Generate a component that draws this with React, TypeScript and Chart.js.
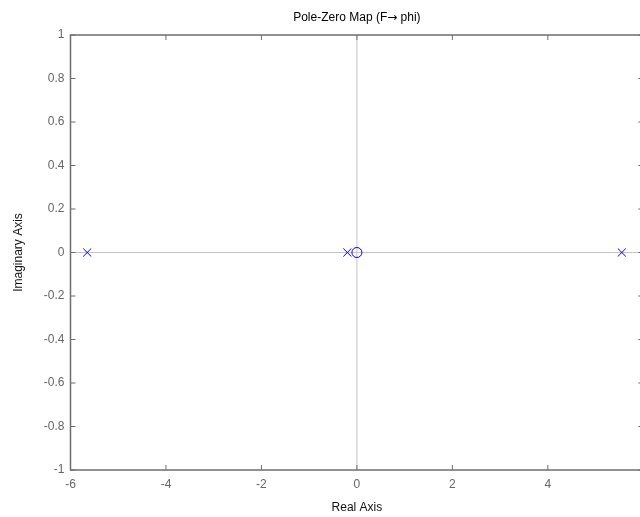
import React, { useEffect, useRef } from 'react';
import { Chart, registerables } from 'chart.js';
Chart.register(...registerables);

const titleParts = ['Pole-Zero Map (F', '\u2192', ' phi)'];
const xLabel = 'Real Axis';
const yLabel = 'Imaginary Axis';
const xMin = -6;
const xMax = 6;
const yMin = -1;
const yMax = 1;
const xStep = 2;
const yStep = 0.2;
const poleRe = [-5.65, -0.2, 5.55];
const poleIm = [0, 0, 0];
const zeroRe = [0];
const zeroIm = [0];

const FONT = '"Liberation Sans", Arial, Helvetica, sans-serif';
const ARROW_FONT = '"DejaVu Sans", sans-serif';

const framePlugin = {
  id: 'frame',
  afterDatasetsDraw(chart: any) {
    const { ctx, chartArea: a, scales } = chart;
    ctx.save();
    ctx.strokeStyle = '#6e6e6e';
    ctx.lineWidth = 1;
    const seg = (x1: number, y1: number, x2: number, y2: number) => {
      ctx.beginPath();
      ctx.moveTo(x1, y1);
      ctx.lineTo(x2, y2);
      ctx.stroke();
    };
    scales.x.ticks.forEach((t: any) => {
      const px = scales.x.getPixelForValue(t.value);
      seg(px, a.top, px, a.top + 5);
      seg(px, a.bottom, px, a.bottom - 5);
    });
    scales.y.ticks.forEach((t: any) => {
      const py = scales.y.getPixelForValue(t.value);
      seg(a.left, py, a.left + 5, py);
      seg(a.right, py, a.right - 5, py);
    });
    ctx.lineWidth = 1.5;
    ctx.strokeRect(a.left, a.top, a.right - a.left, a.bottom - a.top);

    // chart title, centred over the plot area
    ctx.fillStyle = '#000';
    ctx.textBaseline = 'middle';
    ctx.textAlign = 'left';
    const fonts = [`12px ${FONT}`, `12px ${ARROW_FONT}`, `12px ${FONT}`];
    const widths = titleParts.map((p, i) => {
      ctx.font = fonts[i];
      return ctx.measureText(p).width;
    });
    const total = widths.reduce((s, w) => s + w, 0);
    let x = (a.left + a.right) / 2 - total / 2;
    titleParts.forEach((p, i) => {
      ctx.font = fonts[i];
      ctx.fillText(p, x, 18);
      x += widths[i];
    });
    ctx.restore();
  },
};

export default function App() {
  const ref = useRef<HTMLCanvasElement | null>(null);
  useEffect(() => {
    if (!ref.current) return;
    const chart = new Chart(ref.current, {
      type: 'scatter',
      data: {
        datasets: [
          {
            label: 'poles',
            data: poleRe.map((x, i) => ({ x, y: poleIm[i] })),
            pointStyle: 'crossRot',
            pointRadius: 5.7,
            borderColor: '#0000ff',
            backgroundColor: '#0000ff',
            borderWidth: 1,
            order: 1,
          },
          {
            label: 'zeros',
            data: zeroRe.map((x, i) => ({ x, y: zeroIm[i] })),
            pointStyle: 'circle',
            pointRadius: 5,
            borderColor: '#0000ff',
            backgroundColor: 'rgba(0,0,0,0)',
            borderWidth: 1,
            order: 2,
          },
          {
            label: 'imag axis',
            data: [{ x: 0, y: yMin }, { x: 0, y: yMax }],
            showLine: true,
            pointRadius: 0,
            borderColor: '#c4c4c4',
            borderWidth: 1,
            order: 10,
          },
          {
            label: 'real axis',
            data: [{ x: xMin, y: 0 }, { x: xMax, y: 0 }],
            showLine: true,
            pointRadius: 0,
            borderColor: '#c4c4c4',
            borderWidth: 1,
            order: 11,
          },
        ],
      },
      options: {
        responsive: false,
        animation: false,
        layout: { padding: { top: 35, right: 0, left: 0, bottom: 0 } },
        plugins: { legend: { display: false }, tooltip: { enabled: false }, title: { display: false } },
        scales: {
          x: {
            type: 'linear',
            min: xMin,
            max: xMax,
            grid: { display: false, drawTicks: false },
            border: { display: false },
            ticks: {
              stepSize: xStep,
              color: '#666',
              font: { family: FONT, size: 12 },
              padding: 7,
              maxRotation: 0,
            },
            title: {
              display: true,
              text: xLabel,
              color: '#111',
              font: { family: FONT, size: 12 },
              padding: { top: 0, bottom: 2 },
            },
            afterFit: (s: any) => {
              s.height = 47;
              s.paddingLeft = 0;
              s.paddingRight = 0;
            },
          },
          y: {
            type: 'linear',
            min: yMin,
            max: yMax,
            grid: { display: false, drawTicks: false },
            border: { display: false },
            ticks: {
              stepSize: yStep,
              color: '#666',
              font: { family: FONT, size: 12 },
              padding: 6,
              callback: (v: any) => String(Number(Number(v).toFixed(1))),
            },
            title: {
              display: true,
              text: yLabel,
              color: '#111',
              font: { family: FONT, size: 12 },
              padding: { top: 11, bottom: 0 },
            },
            afterFit: (s: any) => {
              s.width = 70.5;
              s.paddingTop = 0;
              s.paddingBottom = 0;
            },
          },
        },
      },
      plugins: [framePlugin],
    } as any);
    return () => chart.destroy();
  }, []);
  return (
    <div style={{ position: 'fixed', left: 0, top: 0, width: 640, height: 517, overflow: 'hidden', background: '#fff' }}>
      <canvas ref={ref} width={650} height={517} style={{ display: 'block' }} />
    </div>
  );
}
